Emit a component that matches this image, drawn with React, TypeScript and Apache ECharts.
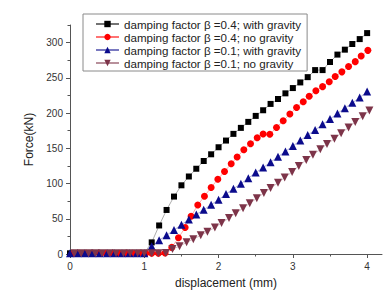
import React, { useEffect, useRef } from "react";
import * as echarts from "echarts";

// Series labels
const names = [
  "damping factor β =0.4; with gravity",
  "damping factor β =0.4; no gravity",
  "damping factor β =0.1; with gravity",
  "damping factor β =0.1; no gravity",
];
const colors = ["#000000", "#ff0000", "#0b0b8c", "#7d3449"];

// Axis ticks
const xMajorTicks = [0, 1, 2, 3, 4];
const xMinorTicks = [0.5, 1.5, 2.5, 3.5];
const yMajorTicks = [0, 50, 100, 150, 200, 250, 300];
const yMinorTicks = [25, 75, 125, 175, 225, 275, 325];

// β = 0.4, with gravity
const g04X = [
  0, 0.1, 0.2, 0.3, 0.4, 0.5, 0.6, 0.7, 0.8, 0.9, 1.0,
  1.1, 1.2, 1.3, 1.4, 1.5, 1.6, 1.7, 1.8, 1.9, 2.0,
  2.1, 2.2, 2.3, 2.4, 2.5, 2.6, 2.7, 2.8, 2.9, 3.0,
  3.1, 3.2, 3.3, 3.4, 3.5, 3.6, 3.7, 3.8, 3.9, 4.0,
];
const g04Y = [
  1, 1, 1, 1, 1, 1, 1, 1, 1, 1, 1,
  16.5, 40.5, 62.5, 81.5, 97.5, 110, 121, 132, 141.5, 151.5,
  161, 170.5, 179, 187.5, 196, 204, 213, 220, 228, 235.5,
  243.5, 251, 261, 261, 272.5, 283, 290, 298, 305, 313.5,
];

// β = 0.4, no gravity
const n04X = [
  0.04, 0.13, 0.22, 0.31, 0.4, 0.48, 0.57, 0.66, 0.75, 0.84, 0.93, 1.02, 1.1, 1.19, 1.28,
  1.37, 1.46, 1.55, 1.63, 1.72, 1.81, 1.9, 1.99, 2.08, 2.17,
  2.25, 2.34, 2.43, 2.52, 2.6, 2.69, 2.78, 2.87, 2.96, 3.05,
  3.14, 3.22, 3.31, 3.4, 3.49, 3.57, 3.66, 3.75, 3.84, 3.92, 4.01,
];
const n04Y = [
  1, 1, 1, 1, 1, 1, 1, 1, 1, 1, 1, 1, 1, 1, 1.5,
  9.4, 23, 37.5, 53.5, 69.5, 82, 94.5, 106, 117, 128,
  137.6, 148, 156.5, 165, 170.3, 170, 179.5, 189, 198.6, 208,
  216, 224, 231.6, 237.5, 244.4, 252, 258.5, 266, 273, 281, 289,
];

// β = 0.1, with gravity
const g01X = [
  0, 0.1, 0.2, 0.3, 0.4, 0.5, 0.6, 0.7, 0.8, 0.9, 1.0,
  1.1, 1.2, 1.3, 1.4, 1.5, 1.6, 1.7, 1.8, 1.9, 2.0,
  2.1, 2.2, 2.3, 2.4, 2.5, 2.6, 2.7, 2.8, 2.9, 3.0,
  3.1, 3.2, 3.3, 3.4, 3.5, 3.6, 3.7, 3.8, 3.9, 4.0,
];
const g01Y = [
  1, 1, 1, 1, 1, 1, 1, 1, 1, 1, 1,
  11, 19.5, 26.5, 34, 41.5, 49, 56, 62.8, 70, 77,
  85, 92.6, 99.7, 107.5, 115.5, 122.6, 130.3, 138, 145.5, 153.3,
  161, 168.8, 176, 184, 191.5, 199.4, 207, 214.5, 222, 230.5,
];

// β = 0.1, no gravity
const n01X = [
  0.06, 0.15, 0.25, 0.34, 0.43, 0.53, 0.62, 0.72, 0.81, 0.91, 1.0, 1.1, 1.19, 1.29,
  1.38, 1.475, 1.57, 1.66, 1.76, 1.85, 1.95, 2.04, 2.14, 2.23,
  2.33, 2.42, 2.515, 2.61, 2.7, 2.8, 2.89, 2.99, 3.08, 3.18,
  3.27, 3.37, 3.46, 3.56, 3.65, 3.75, 3.84, 3.94, 4.03,
];
const n01Y = [
  1, 1, 1, 1, 1, 1, 1, 1, 1, 1, 1, 1, 1, 1.5,
  7, 11, 16.5, 21, 26.5, 31.5, 37.5, 44, 51, 58,
  65, 72, 79, 86.5, 93.5, 101, 108.5, 116.5, 125, 133.5,
  141, 148.5, 156, 163.5, 171.5, 179.5, 187.5, 195.5, 203.5,
];

const xs = [g04X, n04X, g01X, n01X];
const ys = [g04Y, n04Y, g01Y, n01Y];
const symbols = ["rect", "circle", "triangle", "triangle"];
const symbolSizes = [6, 7, 8, 8];
const symbolRotates = [0, 0, 0, 180];

const FONT = "Arial, 'Liberation Sans', Helvetica, sans-serif";

export default function App() {
  const ref = useRef<HTMLDivElement>(null);

  useEffect(() => {
    document.body.style.margin = "0";
    if (!ref.current) return;
    const chart = echarts.init(ref.current, undefined, { renderer: "svg" });

    const series = names.map((name, i) => ({
      name,
      type: "line",
      xAxisIndex: 0,
      yAxisIndex: 0,
      data: xs[i].map((x, k) => [x, ys[i][k]]),
      symbol: symbols[i],
      symbolSize: symbolSizes[i],
      symbolRotate: symbolRotates[i],
      showAllSymbol: true,
      itemStyle: { color: colors[i], opacity: 1 },
      lineStyle: { color: colors[i], width: 0.6, opacity: 0.55 },
      emphasis: { disabled: true },
    }));

    const axisLineStyle = { color: "#555", width: 1 };

    chart.setOption({
      animation: false,
      grid: { left: 70, top: 25, width: 312, height: 229, containLabel: false },
      legend: {
        data: names,
        orient: "vertical",
        left: 83,
        top: 14,
        padding: [4, 6, 2, 12],
        itemGap: 1,
        itemWidth: 23,
        itemHeight: 8,
        borderColor: "#8a8a8a",
        borderWidth: 1,
        backgroundColor: "#ffffff",
        textStyle: { fontFamily: FONT, fontSize: 11.6, color: "#222" },
      },
      xAxis: [
        {
          type: "value",
          min: 0,
          max: 4.2,
          interval: 1,
          name: "displacement (mm)",
          nameLocation: "middle",
          nameGap: 23,
          nameTextStyle: { fontFamily: FONT, fontSize: 12, color: "#222" },
          axisLine: { show: true, lineStyle: axisLineStyle },
          axisTick: { show: true, length: 4, customValues: xMajorTicks, lineStyle: axisLineStyle },
          axisLabel: {
            customValues: xMajorTicks,
            fontFamily: FONT,
            fontSize: 10,
            color: "#333",
            margin: 7,
          },
          splitLine: { show: false },
        },
        {
          type: "value",
          min: 0,
          max: 4.2,
          interval: 0.5,
          position: "bottom",
          axisLine: { show: false },
          axisTick: { show: true, length: 2.5, customValues: xMinorTicks, lineStyle: axisLineStyle },
          axisLabel: { show: false },
          splitLine: { show: false },
        },
      ],
      yAxis: [
        {
          type: "value",
          min: 0,
          max: 325,
          interval: 50,
          name: "Force(kN)",
          nameLocation: "middle",
          nameGap: 27,
          nameRotate: 90,
          nameTextStyle: { fontFamily: FONT, fontSize: 12, color: "#222" },
          axisLine: { show: true, lineStyle: axisLineStyle },
          axisTick: { show: true, length: 4, customValues: yMajorTicks, lineStyle: axisLineStyle },
          axisLabel: {
            customValues: yMajorTicks,
            fontFamily: FONT,
            fontSize: 10,
            color: "#333",
            margin: 7,
          },
          splitLine: { show: false },
        },
        {
          type: "value",
          min: 0,
          max: 325,
          interval: 25,
          position: "left",
          axisLine: { show: false },
          axisTick: { show: true, length: 2.5, customValues: yMinorTicks, lineStyle: axisLineStyle },
          axisLabel: { show: false },
          splitLine: { show: false },
        },
      ],
      series,
    });

    return () => chart.dispose();
  }, []);

  return <div ref={ref} style={{ width: 392, height: 296 }} />;
}
